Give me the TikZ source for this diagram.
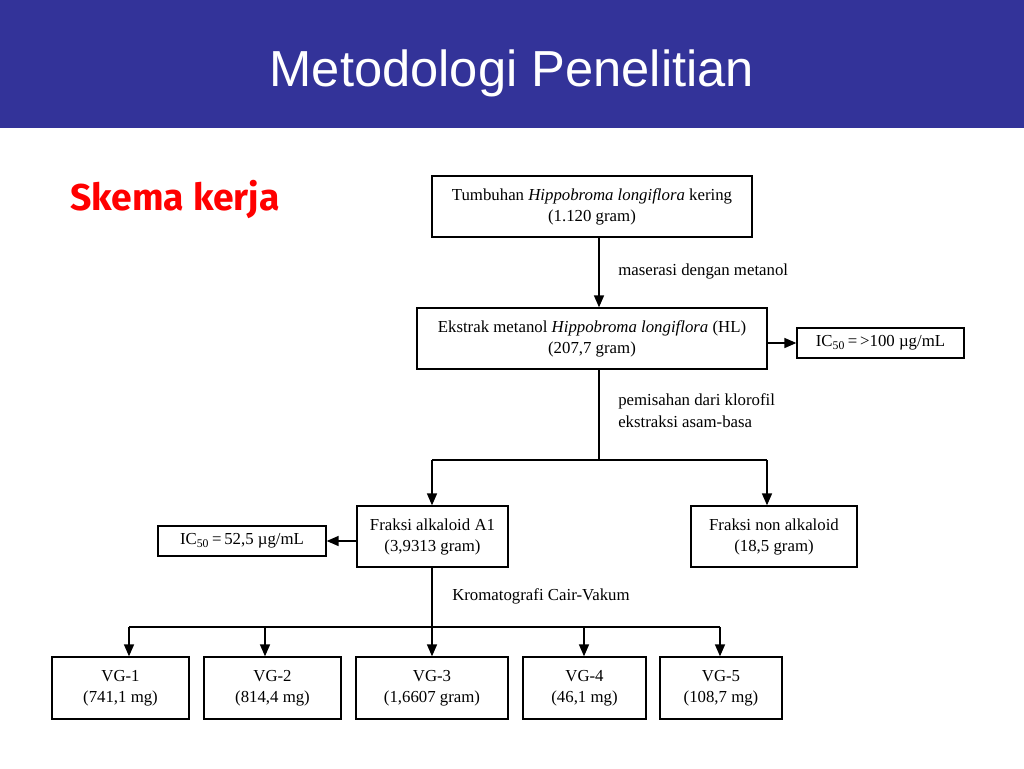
\documentclass[tikz,border=0pt]{standalone}
\usepackage{fontspec}
\setmainfont{Liberation Serif}
\newfontfamily\titlefont{Liberation Sans}
\newfontfamily\skemafont{Fira Sans}
\usetikzlibrary{arrows.meta}
\definecolor{barblue}{RGB}{51,51,153}
\definecolor{skred}{RGB}{255,0,0}
\begin{document}
\begin{tikzpicture}[x=0.75pt,y=-0.75pt,
  box/.style={draw=black,line width=1.0pt,inner sep=0pt,align=center,
    font=\fontsize{12.6}{15.75}\selectfont},
  lbl/.style={inner sep=0pt,align=left,anchor=west,
    font=\fontsize{12.6}{16.5}\selectfont},
  conn/.style={line width=1.2pt,draw=black},
  arr/.style={conn,-{Triangle[length=9pt,width=7.5pt]}}]
\useasboundingbox (0,0) rectangle (1024,768);
\fill[white] (0,0) rectangle (1024,768);
\fill[barblue] (0,0) rectangle (1024,128);
\node[anchor=base,inner sep=0pt,text=white,font=\titlefont\fontsize{38}{44}\selectfont] (title) at (512,86) {Metodologi Penelitian};
\node[anchor=base west,inner sep=0pt,text=skred,font=\skemafont\bfseries\fontsize{28}{30}\selectfont] (skema) at (70,210) {Skema kerja};
% boxes
\node[box,minimum width=240pt,minimum height=45.75pt] (b1) at (592,206.5) {Tumbuhan \textit{Hippobroma longiflora} kering\\(1.120 gram)};
\node[box,minimum width=262.5pt,minimum height=45.75pt] (b2) at (592,338.5) {Ekstrak metanol \textit{Hippobroma longiflora} (HL)\\(207,7 gram)};
\node[box,minimum width=125.25pt,minimum height=22.5pt] (b3) at (880.5,343) {IC\textsubscript{50}\,=\,>100 µg/mL};
\node[box,minimum width=113.25pt,minimum height=45.75pt] (b4) at (432.5,536.5) {Fraksi alkaloid A1\\(3,9313 gram)};
\node[box,minimum width=124.5pt,minimum height=45.75pt] (b5) at (774,536.5) {Fraksi non alkaloid\\(18,5 gram)};
\node[box,minimum width=126pt,minimum height=22.5pt] (b6) at (242,541) {IC\textsubscript{50}\,=\,52,5 µg/mL};
\node[box,minimum width=102.75pt,minimum height=46.5pt] (v1) at (120.5,688) {VG-1\\(741,1 mg)};
\node[box,minimum width=102.75pt,minimum height=46.5pt] (v2) at (272.5,688) {VG-2\\(814,4 mg)};
\node[box,minimum width=114pt,minimum height=46.5pt] (v3) at (432,688) {VG-3\\(1,6607 gram)};
\node[box,minimum width=92.25pt,minimum height=46.5pt] (v4) at (584.5,688) {VG-4\\(46,1 mg)};
\node[box,minimum width=91.5pt,minimum height=46.5pt] (v5) at (721,688) {VG-5\\(108,7 mg)};
% labels
\node[lbl] (l1) at (618,271) {maserasi dengan metanol};
\node[lbl] (l2) at (618,411) {pemisahan dari klorofil\\ekstraksi asam-basa};
\node[lbl] (l3) at (452,596) {Kromatografi Cair-Vakum};
% coordinates
\coordinate (t1) at (599,460);
\coordinate (a4) at (432,460);
\coordinate (a5) at (767,460);
\coordinate (m) at (432,627);
\coordinate (c1) at (129,627);
\coordinate (c2) at (265,627);
\coordinate (c4) at (584,627);
\coordinate (c5) at (720,627);
% connectors
\draw[arr] (b1.south -| t1) -- (b2.north -| t1);
\draw[arr] (b2.east |- b3.west) -- (b3.west);
\draw[conn] (b2.south -| t1) -- (t1);
\draw[conn] (a4) -- (a5);
\draw[arr] (a4) -- (a4 |- b4.north);
\draw[arr] (a5) -- (a5 |- b5.north);
\draw[arr] (b4.west |- b6.east) -- (b6.east);
\draw[conn] (b4.south -| m) -- (m);
\draw[conn] (c1) -- (c5);
\draw[arr] (c1) -- (c1 |- v1.north);
\draw[arr] (c2) -- (c2 |- v2.north);
\draw[arr] (m) -- (m |- v3.north);
\draw[arr] (c4) -- (c4 |- v4.north);
\draw[arr] (c5) -- (c5 |- v5.north);
\end{tikzpicture}
\end{document}
